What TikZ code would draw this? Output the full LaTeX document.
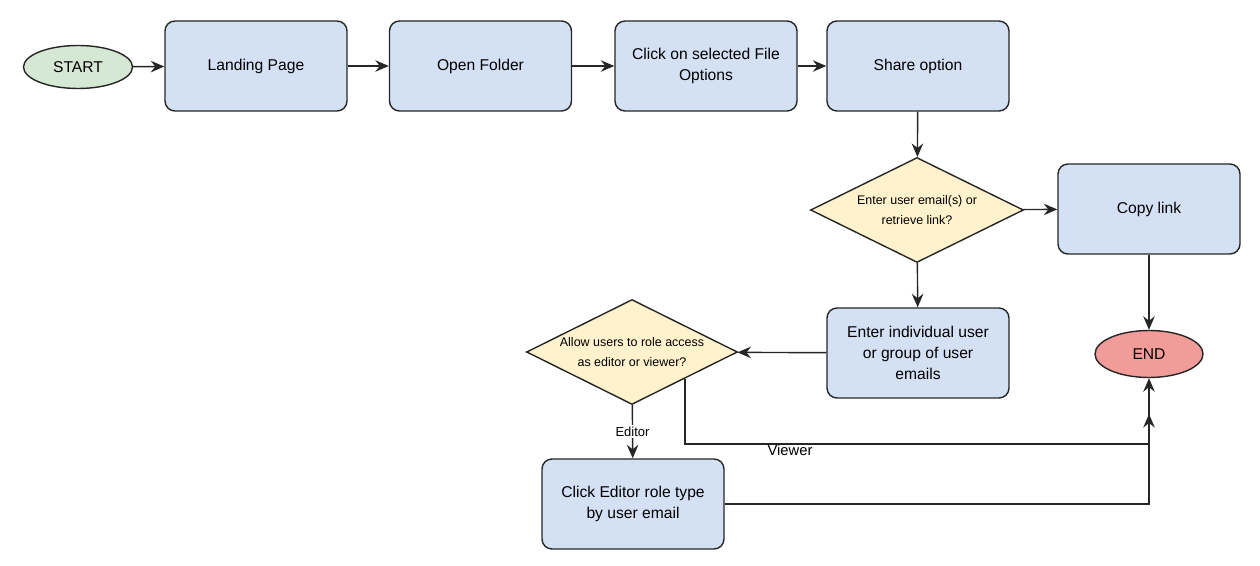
\documentclass[tikz,border=0pt]{standalone}
\usepackage{fontspec}
\setmainfont{Liberation Sans}
\usepackage{tikz}
\usetikzlibrary{shapes.geometric, arrows.meta, positioning}
\definecolor{boxblue}{HTML}{D4E1F5}
\definecolor{choiceyellow}{HTML}{FFF2CC}
\definecolor{startgreen}{HTML}{D5E8D4}
\definecolor{endred}{HTML}{F19C99}
\definecolor{edgegray}{HTML}{262626}

\begin{document}
\begin{tikzpicture}[
    flow/.style={draw=edgegray, line width=0.8pt, -{Stealth[length=2.7mm,width=2.3mm,inset=0.9mm]}},
    procbox/.style={draw=edgegray, line width=0.8pt, fill=boxblue, rounded corners=0.2cm,
      minimum width=3.64cm, minimum height=1.8cm, align=center, font=\fontsize{8.9}{12}\selectfont},
    choice/.style={diamond, aspect=2, inner sep=0pt, draw=edgegray, line width=0.8pt, fill=choiceyellow,
      minimum width=4.26cm, minimum height=2.1cm, align=center, font=\fontsize{7.1}{11.5}\selectfont},
    terminal/.style={ellipse, draw=edgegray, line width=0.8pt, inner sep=0pt, font=\fontsize{8.9}{12}\selectfont},
    edgelabel/.style={fill=white, inner sep=1pt, font=\fontsize{7.4}{8}\selectfont}
  ]
    \useasboundingbox (0,0) rectangle (25.2,-11.32);

    % Top row - start and the first steps
    \node[terminal, fill=startgreen, minimum width=2.18cm, minimum height=0.86cm] (start) at (1.56,-1.34) {START};
    \node[procbox] (landing) at (5.12,-1.32) {Landing Page};
    \node[procbox] (folder) at (9.61,-1.32) {Open Folder};
    \node[procbox] (fileopt) at (14.12,-1.32) {Click on selected File\\Options};
    \node[procbox] (share) at (18.36,-1.32) {Share option};

    % Sharing choice and its branches
    \node[choice] (ask) at (18.34,-4.2) {Enter user email(s) or\\retrieve link?};
    \node[procbox] (copy) at (22.98,-4.18) {Copy link};
    \node[procbox] (indiv) at (18.36,-7.06) {Enter individual user\\or group of user\\emails};
    \node[choice, minimum width=4.22cm] (role) at (12.64,-7.04) {Allow users to role access\\as editor or viewer?};
    \node[terminal, fill=endred, minimum width=2.16cm, minimum height=0.94cm] (finish) at (22.98,-7.08) {END};
    \node[procbox] (editor) at (12.66,-10.08) {Click Editor role type\\by user email};
    \coordinate (viewend) at (22.98,-8.28);

    % Connectors
    \draw[flow] (start) -- (landing);
    \draw[flow] (landing) -- (folder);
    \draw[flow] (folder) -- (fileopt);
    \draw[flow] (fileopt) -- (share);
    \draw[flow] (share) -- (ask);
    \draw[flow] (ask) -- (copy);
    \draw[flow] (ask) -- (indiv);
    \draw[flow] (copy) -- (finish);
    \draw[flow] (indiv) -- (role);
    \draw[flow] (role) -- node[edgelabel] (editorlbl) {Editor} (editor);
    \draw[flow] (role.south east) |- (viewend |- 0,-8.88) -- (viewend);
    \node[font=\fontsize{8.4}{9}\selectfont] (viewerlbl) at (15.8,-9.0) {Viewer};
    \draw[flow] (editor) -| (finish);
  \end{tikzpicture}
\end{document}
